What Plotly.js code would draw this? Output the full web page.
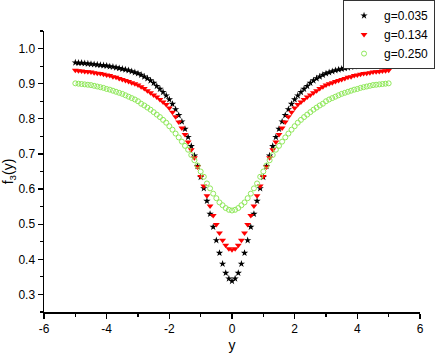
<!DOCTYPE html>
<html>
<head>
<meta charset="utf-8">
<script src="https://cdn.plot.ly/plotly-3.0.1.min.js"></script>
<style>
  html, body { margin: 0; padding: 0; background: #fff; }
  #chart { width: 436px; height: 353px; }
</style>
</head>
<body>
<div id="chart"></div>
<script>
// y values (x axis of the chart)
const yPos = [-5.0, -4.9, -4.8, -4.7, -4.6, -4.5, -4.4, -4.3, -4.2, -4.1,
  -4.0, -3.9, -3.8, -3.7, -3.6, -3.5, -3.4, -3.3, -3.2, -3.1,
  -3.0, -2.9, -2.8, -2.7, -2.6, -2.5, -2.4, -2.3, -2.2, -2.1,
  -2.0, -1.9, -1.8, -1.7, -1.6, -1.5, -1.4, -1.3, -1.2, -1.1,
  -1.0, -0.9, -0.8, -0.7, -0.6, -0.5, -0.4, -0.3, -0.2, -0.1,
  0.0, 0.1, 0.2, 0.3, 0.4, 0.5, 0.6, 0.7, 0.8, 0.9,
  1.0, 1.1, 1.2, 1.3, 1.4, 1.5, 1.6, 1.7, 1.8, 1.9,
  2.0, 2.1, 2.2, 2.3, 2.4, 2.5, 2.6, 2.7, 2.8, 2.9,
  3.0, 3.1, 3.2, 3.3, 3.4, 3.5, 3.6, 3.7, 3.8, 3.9,
  4.0, 4.1, 4.2, 4.3, 4.4, 4.5, 4.6, 4.7, 4.8, 4.9, 5.0];

// f3(y) for g = 0.035
const fG035 = [0.960, 0.959, 0.959, 0.958, 0.957, 0.956, 0.955, 0.954, 0.953, 0.952,
  0.951, 0.949, 0.948, 0.946, 0.944, 0.942, 0.940, 0.938, 0.935, 0.932,
  0.929, 0.925, 0.920, 0.915, 0.909, 0.902, 0.893, 0.885, 0.876, 0.866,
  0.855, 0.842, 0.827, 0.810, 0.792, 0.771, 0.748, 0.722, 0.695, 0.665,
  0.634, 0.602, 0.566, 0.529, 0.492, 0.454, 0.418, 0.387, 0.361, 0.345,
  0.338,
  0.345, 0.361, 0.387, 0.418, 0.454, 0.492, 0.529, 0.566, 0.602, 0.634,
  0.665, 0.695, 0.722, 0.748, 0.771, 0.792, 0.810, 0.827, 0.842, 0.855,
  0.866, 0.876, 0.885, 0.893, 0.902, 0.909, 0.915, 0.920, 0.925, 0.929,
  0.932, 0.935, 0.938, 0.940, 0.942, 0.944, 0.946, 0.948, 0.949, 0.951,
  0.952, 0.953, 0.954, 0.955, 0.956, 0.957, 0.958, 0.959, 0.959, 0.960];

// f3(y) for g = 0.134
const fG134 = [0.938, 0.937, 0.936, 0.935, 0.934, 0.933, 0.931, 0.930, 0.929, 0.927,
  0.925, 0.923, 0.920, 0.918, 0.915, 0.912, 0.909, 0.906, 0.903, 0.900,
  0.896, 0.891, 0.886, 0.880, 0.874, 0.868, 0.862, 0.855, 0.848, 0.841,
  0.831, 0.819, 0.806, 0.791, 0.774, 0.755, 0.734, 0.712, 0.689, 0.663,
  0.636, 0.609, 0.581, 0.552, 0.525, 0.499, 0.475, 0.454, 0.440, 0.430,
  0.427,
  0.430, 0.440, 0.454, 0.475, 0.499, 0.525, 0.552, 0.581, 0.609, 0.636,
  0.663, 0.689, 0.712, 0.734, 0.755, 0.774, 0.791, 0.806, 0.819, 0.831,
  0.841, 0.848, 0.855, 0.862, 0.868, 0.874, 0.880, 0.886, 0.891, 0.896,
  0.900, 0.903, 0.906, 0.909, 0.912, 0.915, 0.918, 0.920, 0.923, 0.925,
  0.927, 0.929, 0.930, 0.931, 0.933, 0.934, 0.935, 0.936, 0.937, 0.938];

// f3(y) for g = 0.250
const fG250 = [0.901, 0.900, 0.899, 0.898, 0.897, 0.896, 0.894, 0.892, 0.890, 0.888,
  0.885, 0.883, 0.880, 0.877, 0.874, 0.871, 0.867, 0.863, 0.859, 0.855,
  0.850, 0.843, 0.838, 0.832, 0.826, 0.819, 0.812, 0.805, 0.797, 0.789,
  0.779, 0.769, 0.758, 0.747, 0.735, 0.723, 0.712, 0.697, 0.682, 0.667,
  0.650, 0.635, 0.616, 0.602, 0.587, 0.574, 0.562, 0.554, 0.546, 0.541,
  0.539,
  0.541, 0.546, 0.554, 0.562, 0.574, 0.587, 0.602, 0.616, 0.635, 0.650,
  0.667, 0.682, 0.697, 0.712, 0.723, 0.735, 0.747, 0.758, 0.769, 0.779,
  0.789, 0.797, 0.805, 0.812, 0.819, 0.826, 0.832, 0.838, 0.843, 0.850,
  0.855, 0.859, 0.863, 0.867, 0.871, 0.874, 0.877, 0.880, 0.883, 0.885,
  0.888, 0.890, 0.892, 0.894, 0.896, 0.897, 0.898, 0.899, 0.900, 0.901];

const seriesNames = ["g=0.035", "g=0.134", "g=0.250"];

const xTickVals = [-6, -4, -2, 0, 2, 4, 6];
const xTickText = ["-6", "-4", "-2", "0", "2", "4", "6"];
const yTickVals = [0.3, 0.4, 0.5, 0.6, 0.7, 0.8, 0.9, 1.0];
const yTickText = ["0.3", "0.4", "0.5", "0.6", "0.7", "0.8", "0.9", "1.0"];

const FONT = "Liberation Sans, Arial, sans-serif";

const traces = [
  {
    x: yPos, y: fG035, name: seriesNames[0], type: "scatter", mode: "markers",
    marker: { symbol: "star", size: 5.5, color: "#000000", line: { width: 0 } },
  },
  {
    x: yPos, y: fG134, name: seriesNames[1], type: "scatter", mode: "markers",
    marker: { symbol: "triangle-down", size: 6, color: "#ff0000", line: { width: 0 } },
  },
  {
    x: yPos, y: fG250, name: seriesNames[2], type: "scatter", mode: "markers",
    marker: { symbol: "circle-open", size: 5, color: "#8fe85a", line: { width: 1, color: "#8fe85a" } },
  },
];

const axisCommon = {
  showgrid: false,
  zeroline: false,
  showline: true,
  linecolor: "#000",
  linewidth: 1.5,
  ticks: "outside",
  ticklen: 5,
  tickwidth: 1.2,
  tickcolor: "#000",
  tickfont: { family: FONT, size: 12, color: "#000" },
  mirror: false,
  automargin: false,
};

const layout = {
  width: 436,
  height: 353,
  margin: { l: 44, r: 16, t: 31, b: 41, autoexpand: false },
  paper_bgcolor: "#fff",
  plot_bgcolor: "#fff",
  font: { family: FONT, color: "#000" },
  showlegend: true,
  legend: {
    x: 1.04, y: 1.11, xanchor: "right", yanchor: "top",
    bgcolor: "#fff", bordercolor: "#333", borderwidth: 1,
    font: { family: FONT, size: 12, color: "#000" },
    tracegroupgap: 0, itemwidth: 30,
  },
  xaxis: {
    ...axisCommon,
    range: [-6, 6],
    tickmode: "array",
    tickvals: xTickVals,
    ticktext: xTickText,
    minor: { dtick: 1, tick0: 0, ticks: "outside", ticklen: 3, tickwidth: 1.2, tickcolor: "#000" },
    title: { text: "y", font: { family: FONT, size: 14, color: "#000" }, standoff: 8 },
  },
  yaxis: {
    ...axisCommon,
    range: [0.25, 1.05],
    tickmode: "array",
    tickvals: yTickVals,
    ticktext: yTickText,
    minor: { dtick: 0.05, tick0: 0, ticks: "outside", ticklen: 3, tickwidth: 1.2, tickcolor: "#000" },
    title: { text: "f<sub>3</sub>(y)", font: { family: FONT, size: 14, color: "#000" }, standoff: 6 },
  },
};

Plotly.newPlot("chart", traces, layout, { displayModeBar: false, staticPlot: true });
</script>
</body>
</html>
